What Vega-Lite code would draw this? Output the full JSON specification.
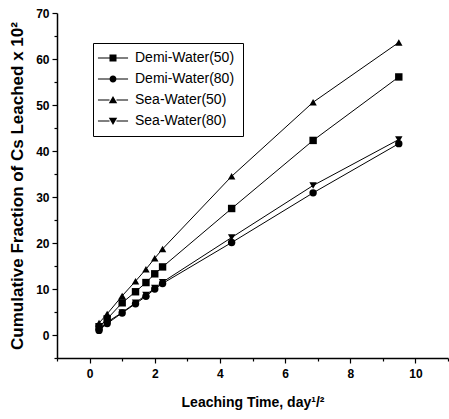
{
  "$schema": "https://vega.github.io/schema/vega-lite/v6.json",
  "width": 391,
  "height": 345,
  "autosize": {"type": "none"},
  "padding": {"left": 57, "top": 13, "right": 1, "bottom": 61},
  "background": "white",
  "config": {
    "view": {"stroke": null},
    "font": "Liberation Sans",
    "axis": {"domainColor": "black", "tickColor": "black", "labelColor": "black", "titleColor": "black", "grid": false, "domainWidth": 1.5, "tickWidth": 1.2}
  },
  "data": {
    "values": [
      {"series": "Demi-Water(50)", "t": 0.29, "v": 1.8},
      {"series": "Demi-Water(50)", "t": 0.54, "v": 3.5},
      {"series": "Demi-Water(50)", "t": 1.0, "v": 7.0},
      {"series": "Demi-Water(50)", "t": 1.41, "v": 9.4},
      {"series": "Demi-Water(50)", "t": 1.73, "v": 11.4},
      {"series": "Demi-Water(50)", "t": 2.0, "v": 13.3},
      {"series": "Demi-Water(50)", "t": 2.24, "v": 14.8},
      {"series": "Demi-Water(50)", "t": 4.36, "v": 27.5},
      {"series": "Demi-Water(50)", "t": 6.86, "v": 42.3},
      {"series": "Demi-Water(50)", "t": 9.49, "v": 56.1},
      {"series": "Demi-Water(80)", "t": 0.29, "v": 1.0},
      {"series": "Demi-Water(80)", "t": 0.54, "v": 2.5},
      {"series": "Demi-Water(80)", "t": 1.0, "v": 4.8},
      {"series": "Demi-Water(80)", "t": 1.41, "v": 6.8},
      {"series": "Demi-Water(80)", "t": 1.73, "v": 8.4},
      {"series": "Demi-Water(80)", "t": 2.0, "v": 10.0},
      {"series": "Demi-Water(80)", "t": 2.24, "v": 11.2},
      {"series": "Demi-Water(80)", "t": 4.36, "v": 20.1},
      {"series": "Demi-Water(80)", "t": 6.86, "v": 30.9},
      {"series": "Demi-Water(80)", "t": 9.49, "v": 41.6},
      {"series": "Sea-Water(50)", "t": 0.29, "v": 2.6},
      {"series": "Sea-Water(50)", "t": 0.54, "v": 4.6},
      {"series": "Sea-Water(50)", "t": 1.0, "v": 8.5},
      {"series": "Sea-Water(50)", "t": 1.41, "v": 11.7},
      {"series": "Sea-Water(50)", "t": 1.73, "v": 14.3},
      {"series": "Sea-Water(50)", "t": 2.0, "v": 16.7},
      {"series": "Sea-Water(50)", "t": 2.24, "v": 18.7},
      {"series": "Sea-Water(50)", "t": 4.36, "v": 34.5},
      {"series": "Sea-Water(50)", "t": 6.86, "v": 50.6},
      {"series": "Sea-Water(50)", "t": 9.49, "v": 63.6},
      {"series": "Sea-Water(80)", "t": 0.29, "v": 1.2},
      {"series": "Sea-Water(80)", "t": 0.54, "v": 2.8},
      {"series": "Sea-Water(80)", "t": 1.0, "v": 4.9},
      {"series": "Sea-Water(80)", "t": 1.41, "v": 7.0},
      {"series": "Sea-Water(80)", "t": 1.73, "v": 8.7},
      {"series": "Sea-Water(80)", "t": 2.0, "v": 10.2},
      {"series": "Sea-Water(80)", "t": 2.24, "v": 11.5},
      {"series": "Sea-Water(80)", "t": 4.36, "v": 21.2},
      {"series": "Sea-Water(80)", "t": 6.86, "v": 32.5},
      {"series": "Sea-Water(80)", "t": 9.49, "v": 42.5}
    ]
  },
  "encoding": {
    "x": {
      "field": "t", "type": "quantitative",
      "scale": {"domain": [-1, 11], "nice": false, "zero": false},
      "axis": {
        "values": [-1, 0, 1, 2, 3, 4, 5, 6, 7, 8, 9, 10, 11],
        "labelExpr": "datum.value % 2 == 0 ? datum.label : ''",
        "tickSize": {"condition": {"test": "datum.value % 2 != 0", "value": 3}, "value": 5},
        "labelFontSize": 12, "labelFontWeight": "bold", "labelPadding": 5,
        "title": "Leaching Time, day¹/²", "titleFontSize": 14, "titleFontWeight": "bold", "titlePadding": 16
      }
    },
    "y": {
      "field": "v", "type": "quantitative",
      "scale": {"domain": [-5, 70], "nice": false, "zero": false},
      "axis": {
        "values": [-5, 0, 5, 10, 15, 20, 25, 30, 35, 40, 45, 50, 55, 60, 65, 70],
        "labelExpr": "datum.value % 10 == 0 ? datum.label : ''",
        "tickSize": {"condition": {"test": "datum.value % 10 != 0", "value": 3}, "value": 5},
        "labelFontSize": 12, "labelFontWeight": "bold", "labelPadding": 3,
        "title": "Cumulative Fraction of Cs Leached x 10²", "titleFontSize": 17, "titleFontWeight": "bold", "titlePadding": 9
      }
    }
  },
  "layer": [
    {
      "mark": {"type": "line", "color": "black", "strokeWidth": 1},
      "encoding": {"detail": {"field": "series"}}
    },
    {
      "mark": {"type": "point", "filled": true, "color": "black", "opacity": 1, "size": 55},
      "encoding": {
        "shape": {
          "field": "series", "type": "nominal",
          "scale": {"domain": ["Demi-Water(50)", "Demi-Water(80)", "Sea-Water(50)", "Sea-Water(80)"], "range": ["square", "circle", "triangle-up", "triangle-down"]},
          "legend": null
        }
      }
    },
    {
      "transform": [{"filter": "false"}],
      "mark": {"type": "point", "filled": true, "color": "black", "opacity": 1, "size": 50},
      "encoding": {
        "shape": {
          "field": "series", "type": "nominal",
          "scale": {"domain": ["Demi-Water(50)", "Demi-Water(80)", "Sea-Water(50)", "Sea-Water(80)"], "range": ["M-4.3,-0.15H-1V0.15H-4.3ZM1,-0.15H4.3V0.15H1ZM-1,-1H1V1H-1Z", "M-4.3,-0.15H-1V0.15H-4.3ZM1,-0.15H4.3V0.15H1ZM-1,0A1,1 0 1,0 1,0A1,1 0 1,0 -1,0Z", "M-4.3,-0.15H-1V0.15H-4.3ZM1,-0.15H4.3V0.15H1ZM0,-1.15L1.2,0.95H-1.2Z", "M-4.3,-0.15H-1V0.15H-4.3ZM1,-0.15H4.3V0.15H1ZM0,1.15L1.2,-0.95H-1.2Z"]},
          "legend": {
            "title": null,
            "orient": "none", "legendX": 36, "legendY": 30,
            "strokeColor": "black", "padding": 8,
            "symbolSize": 49, "symbolOffset": 5, "symbolFillColor": "black", "symbolStrokeColor": "black", "symbolStrokeWidth": 1,
            "labelFontSize": 14, "labelFont": "Liberation Sans", "labelColor": "black", "labelOffset": 15, "rowPadding": 7
          }
        }
      }
    }
  ],
  "resolve": {"scale": {"shape": "independent"}}
}
